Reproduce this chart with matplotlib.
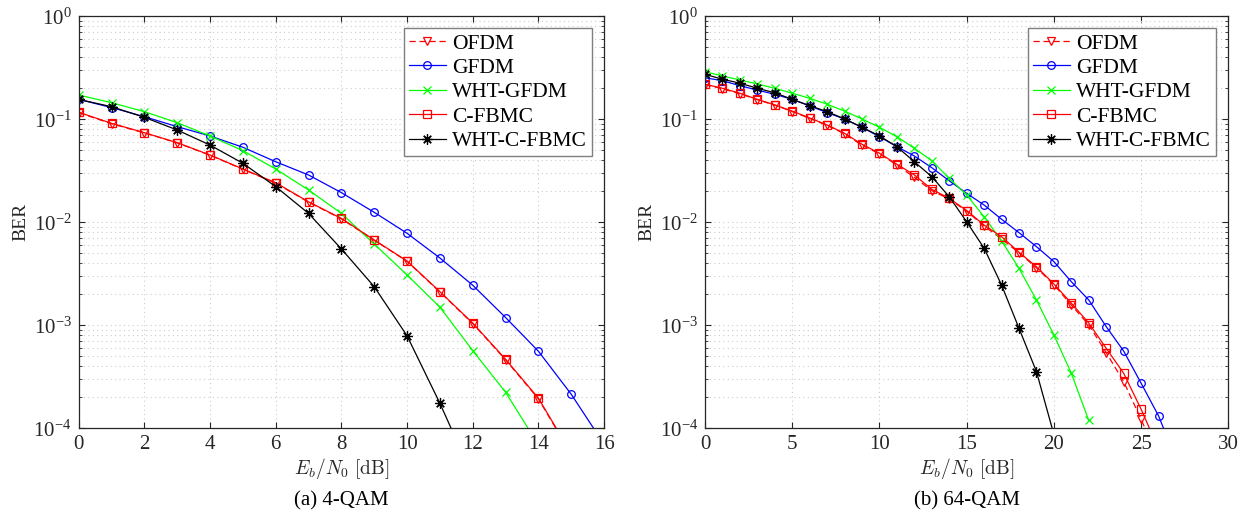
"""
BER vs Eb/N0 for OFDM, GFDM and C-FBMC (4-QAM and 64-QAM).
"""
import numpy as np
import matplotlib

matplotlib.use("Agg")
import matplotlib.pyplot as plt
from matplotlib.ticker import LogLocator, NullLocator, FixedLocator

plt.rcParams["font.family"] = ["Liberation Serif", "DejaVu Serif"]
plt.rcParams["mathtext.fontset"] = "cm"
plt.rcParams["axes.unicode_minus"] = False

LABELS = ["OFDM", "GFDM", "WHT-GFDM", "C-FBMC", "WHT-C-FBMC"]

# (a) 4-QAM
ebn0_a_ofdm = list(range(0, 16))
ber_a_ofdm = [0.116, 0.0905, 0.0738, 0.0590, 0.0448, 0.0327, 0.0240, 0.0157,
              0.0108, 0.00670, 0.00418, 0.00210, 0.00104, 0.000462, 0.000193, 5.6e-5]
ebn0_a_gfdm = list(range(0, 17))
ber_a_gfdm = [0.156, 0.130, 0.106, 0.0848, 0.0689, 0.0535, 0.0387, 0.0288,
              0.0194, 0.0125, 0.00782, 0.00450, 0.00245, 0.00119, 0.00056,
              0.000214, 7.0e-5]
ebn0_a_whtgfdm = list(range(0, 15))
ber_a_whtgfdm = [0.172, 0.145, 0.1186, 0.0927, 0.0689, 0.0496, 0.0329, 0.0206,
                 0.0122, 0.00615, 0.00308, 0.00150, 0.000567, 0.000224, 6.9e-5]
ebn0_a_cfbmc = list(range(0, 16))
ber_a_cfbmc = [0.117, 0.0914, 0.0741, 0.0593, 0.0450, 0.0329, 0.0242, 0.0158,
               0.0109, 0.00673, 0.00421, 0.00212, 0.00105, 0.000468, 0.000196, 5.7e-5]
ebn0_a_whtcfbmc = list(range(0, 13))
ber_a_whtcfbmc = [0.156, 0.1325, 0.1045, 0.0787, 0.0562, 0.0374, 0.0222, 0.0122,
                  0.00551, 0.00237, 0.00079, 0.000175, 3.4e-5]

# (b) 64-QAM
ebn0_b_ofdm = list(range(0, 27))
ber_b_ofdm = [0.217, 0.198, 0.177, 0.155, 0.137, 0.119, 0.102, 0.0872,
              0.0722, 0.0560, 0.0462, 0.0360, 0.0273, 0.0203, 0.0168, 0.0128,
              0.0092, 0.00690, 0.00505, 0.00362, 0.00248, 0.00157, 0.00101,
              0.000542, 0.000284, 0.000122, 5.0e-5]
ebn0_b_gfdm = list(range(0, 28))
ber_b_gfdm = [0.253, 0.237, 0.212, 0.192, 0.175, 0.156, 0.135, 0.116,
              0.1007, 0.0836, 0.0678, 0.0542, 0.0440, 0.0339, 0.0253, 0.0191,
              0.0147, 0.0107, 0.00793, 0.0058, 0.00415, 0.00265, 0.00176,
              0.00097, 0.000562, 0.000274, 0.000132, 5.0e-5]
ebn0_b_whtgfdm = list(range(0, 23))
ber_b_whtgfdm = [0.290, 0.263, 0.241, 0.220, 0.200, 0.179, 0.160, 0.140,
                 0.120, 0.1007, 0.0836, 0.0678, 0.0523, 0.0396, 0.0267, 0.0184,
                 0.0113, 0.00660, 0.00357, 0.00176, 0.000805, 0.000342, 0.000119]
ebn0_b_cfbmc = list(range(0, 27))
ber_b_cfbmc = [0.219, 0.200, 0.179, 0.156, 0.138, 0.120, 0.103, 0.0881,
               0.0731, 0.0572, 0.0468, 0.0366, 0.0288, 0.0209, 0.0171, 0.0130,
               0.0094, 0.00724, 0.00512, 0.00370, 0.00252, 0.00164, 0.00105,
               0.000598, 0.000342, 0.000153, 6.3e-5]
ebn0_b_whtcfbmc = list(range(0, 21))
ber_b_whtcfbmc = [0.273, 0.245, 0.224, 0.200, 0.181, 0.156, 0.1355, 0.1186,
                  0.1007, 0.0836, 0.0689, 0.0542, 0.0387, 0.0277, 0.0177, 0.0101,
                  0.0056, 0.00246, 0.000935, 0.000355, 8.7e-5]

STYLES = [
    dict(color="#ff0000", linestyle=(0, (5, 3)), marker="v", markersize=6),
    dict(color="#0000ff", linestyle="-", marker="o", markersize=5.5),
    dict(color="#00ff00", linestyle="-", marker="x", markersize=6),
    dict(color="#ff0000", linestyle="-", marker="s", markersize=5.5),
    dict(color="#000000", linestyle="-", marker=(8, 2, 0), markersize=7.5),
]

TEXT_COLOR = "#262626"
GRID_COLOR = "#cccccc"
FS = 15


def draw_panel(ax, curves, xmax, xstep, caption):
    for (x, y), label, style in zip(curves, LABELS, STYLES):
        ax.semilogy(x, y, label=label, linewidth=0.9,
                    markerfacecolor="none", markeredgewidth=0.9, **style)

    ax.set_xlim(0, xmax)
    ax.set_ylim(1e-4, 1)
    ax.xaxis.set_major_locator(FixedLocator(np.arange(0, xmax + 1, xstep)))
    ax.xaxis.set_minor_locator(NullLocator())
    ax.yaxis.set_major_locator(LogLocator(base=10, numticks=10))
    ax.yaxis.set_minor_locator(LogLocator(base=10, subs=np.arange(2, 10), numticks=20))

    # dotted matlab-like grid, minor lines only along y
    ax.grid(True, which="major", axis="both", linestyle=(0, (1, 3)),
            color=GRID_COLOR, linewidth=0.8)
    ax.grid(True, which="minor", axis="y", linestyle=(0, (1, 3)),
            color=GRID_COLOR, linewidth=0.8)

    ax.tick_params(which="both", direction="in", top=True, right=True,
                   colors=TEXT_COLOR, labelsize=FS)
    ax.tick_params(which="major", length=4, width=0.8, pad=5)
    ax.tick_params(which="minor", length=2.5, width=0.6)
    for spine in ax.spines.values():
        spine.set_color(TEXT_COLOR)
        spine.set_linewidth(0.9)

    ax.set_xlabel(r"$E_b/N_0~[\mathrm{dB}]$", fontsize=FS - 1, color=TEXT_COLOR, labelpad=1)
    ax.set_ylabel("BER", fontsize=FS - 1, color=TEXT_COLOR, labelpad=3)

    leg = ax.legend(loc="upper right", fontsize=15.5, handlelength=1.7,
                    handletextpad=0.3, borderpad=0.25, labelspacing=0.2,
                    borderaxespad=0.55, fancybox=False, framealpha=1)
    leg.get_frame().set_edgecolor("#7f7f7f")
    leg.get_frame().set_linewidth(1.0)

    ax.text(0.5, -0.175, caption, transform=ax.transAxes, ha="center", va="center",
            fontsize=FS, color="black")


fig = plt.figure(figsize=(12.45, 5.29), dpi=100)
ax_a = fig.add_axes([0.0632, 0.1904, 0.422, 0.7788])
ax_b = fig.add_axes([0.5663, 0.1904, 0.4203, 0.7788])

draw_panel(ax_a,
           [(ebn0_a_ofdm, ber_a_ofdm), (ebn0_a_gfdm, ber_a_gfdm),
            (ebn0_a_whtgfdm, ber_a_whtgfdm), (ebn0_a_cfbmc, ber_a_cfbmc),
            (ebn0_a_whtcfbmc, ber_a_whtcfbmc)],
           16, 2, "(a) 4-QAM")
draw_panel(ax_b,
           [(ebn0_b_ofdm, ber_b_ofdm), (ebn0_b_gfdm, ber_b_gfdm),
            (ebn0_b_whtgfdm, ber_b_whtgfdm), (ebn0_b_cfbmc, ber_b_cfbmc),
            (ebn0_b_whtcfbmc, ber_b_whtcfbmc)],
           30, 5, "(b) 64-QAM")

fig.savefig("out.png", dpi=100)
